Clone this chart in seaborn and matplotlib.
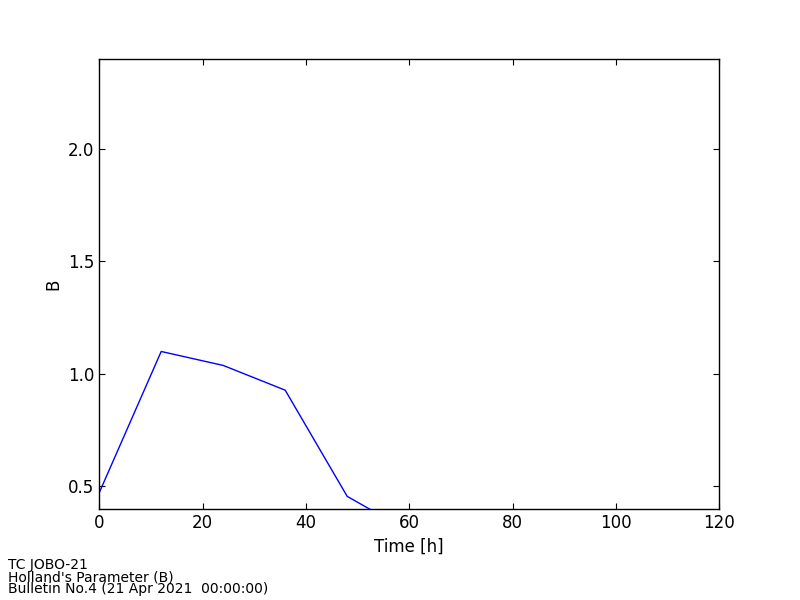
import matplotlib
matplotlib.use("Agg")
import matplotlib.pyplot as plt
import seaborn as sns
import pandas as pd

# Holland's B parameter along the forecast
hours = [0, 12, 24, 36, 48, 60]
b_values = [0.472, 1.10, 1.038, 0.928, 0.456, 0.30]

footer_lines = [
    "TC JOBO-21",
    "Holland's Parameter (B)",
    "Bulletin No.4 (21 Apr 2021  00:00:00)",
]

data = pd.DataFrame({"Time": hours, "B": b_values})

sns.set_style("ticks", {"xtick.direction": "in", "ytick.direction": "in",
                        "text.color": "black", "axes.labelcolor": "black",
                        "xtick.color": "black", "ytick.color": "black"})
plt.rcParams["font.family"] = ["DejaVu Sans"]

fig = plt.figure(figsize=(8, 6), dpi=100)
ax = fig.add_axes([0.124, 0.1517, 0.775, 0.75])

sns.lineplot(data=data, x="Time", y="B", color="blue", linewidth=1, ax=ax)

ax.set_xlim(0, 120)
ax.set_ylim(0.4, 2.4)
ax.set_yticks([0.5, 1.0, 1.5, 2.0])
ax.set_xlabel("Time [h]", fontsize=12)
ax.set_ylabel("B", fontsize=12)
ax.tick_params(labelsize=12, top=True, right=True, length=4, width=0.8)
for side in ax.spines.values():
    side.set_color("black")
    side.set_linewidth(1)

# footer notes
for i, line in enumerate(footer_lines):
    fig.text(0.01, 0.051 - i * 0.02, line, fontsize=10, va="baseline",
             color="black")

fig.savefig("out.png", dpi=100)
